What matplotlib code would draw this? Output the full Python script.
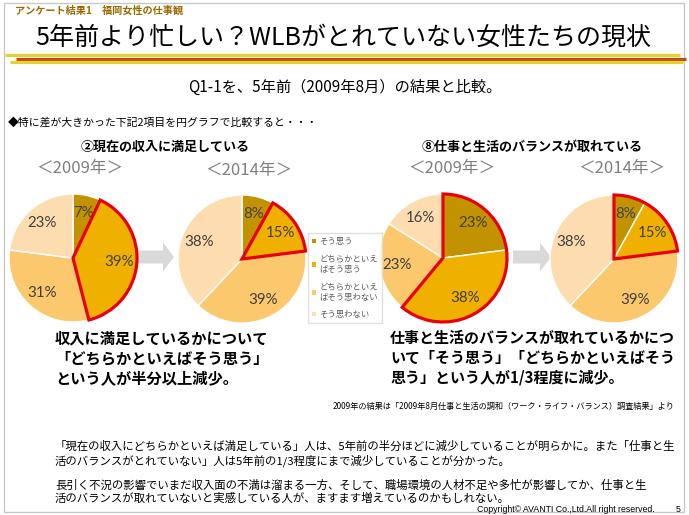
import matplotlib
matplotlib.use("Agg")
import matplotlib.pyplot as plt
import matplotlib.patches as mpatches

plt.rcParams['font.family'] = ['Noto Sans CJK JP', 'DejaVu Sans']

# ---------------------------------
# Data
# ---------------------------------
categories = ["そう思う", "どちらかといえばそう思う", "どちらかといえばそう思わない", "そう思わない"]
legend_labels = ["そう思う", "どちらかといえ\nばそう思う", "どちらかといえ\nばそう思わない", "そう思わない"]
income_2009 = [7, 39, 31, 23]
income_2014 = [8, 15, 39, 38]
wlb_2009 = [23, 38, 23, 16]
wlb_2014 = [8, 15, 39, 38]
year_labels = ["＜2009年＞", "＜2014年＞", "＜2009年＞", "＜2014年＞"]
highlights = [[1], [1], [0, 1], [0, 1]]

slice_colors = ["#C39200", "#F0B000", "#FBC86E", "#FDDDB0"]

W, H = 689, 515
fig = plt.figure(figsize=(W / 100, H / 100), dpi=100)
fig.patch.set_facecolor("white")

# background axes in pixel coordinates
bg = fig.add_axes([0, 0, 1, 1])
bg.set_xlim(0, W)
bg.set_ylim(H, 0)
bg.axis("off")

# slide frame
bg.add_patch(mpatches.Rectangle((4, 3), 680, 509, fill=False, ec="#C8C8C8", lw=1))

# header
bg.text(15, 11, "アンケート結果1　福岡女性の仕事観", fontsize=7.3, fontweight="bold",
        color="#9A6A00", va="center", ha="left")
bg.text(343, 38, "5年前より忙しい？WLBがとれていない女性たちの現状", fontsize=18,
        color="black", va="center", ha="center")
bg.plot([5, 680], [54.5, 54.5], color="#E2D52A", lw=2.3, solid_capstyle="butt")
bg.plot([16, 686], [58.7, 58.7], color="#C8461E", lw=2.3, solid_capstyle="butt")
bg.plot([10, 683], [62.3, 62.3], color="#E2D52A", lw=2.3, solid_capstyle="butt")

bg.text(345, 87, "Q1-1を、5年前（2009年8月）の結果と比較。", fontsize=11,
        va="center", ha="center")
bg.text(8, 122, "◆特に差が大きかった下記2項目を円グラフで比較すると・・・", fontsize=7.8,
        va="center", ha="left")

# section titles
bg.text(165, 147, "②現在の収入に満足している", fontsize=9.4, fontweight="bold",
        va="center", ha="center")
bg.text(532, 147, "⑧仕事と生活のバランスが取れている", fontsize=9.4, fontweight="bold",
        va="center", ha="center")

# pies
centers = [(73, 258), (242, 259), (443, 258), (614, 259)]
radius = 64
series = [income_2009, income_2014, wlb_2009, wlb_2014]
year_pos = [(80, 168), (249, 170), (452, 169), (622, 169)]

wedges_for_legend = None
for (cx, cy), values, hl, ylab, (yx, yy) in zip(centers, series, highlights, year_labels, year_pos):
    box = radius * 1.1
    ax = fig.add_axes([(cx - box) / W, 1 - (cy + box) / H, 2 * box / W, 2 * box / H])
    wedges, texts = ax.pie(values, colors=slice_colors, startangle=90, counterclock=False,
                           labels=[f"{v}%" for v in values], labeldistance=0.72,
                           wedgeprops=dict(edgecolor="white", linewidth=1),
                           textprops=dict(fontsize=10.8, color="#404040",
                                          family=["Lato", "DejaVu Sans"]))
    for t in texts:
        t.set_ha("center")
        t.set_va("center")
    ax.set_xlim(-1.1, 1.1)
    ax.set_ylim(-1.1, 1.1)
    ax.set_aspect("equal")
    ax.patch.set_alpha(0)
    # red outline around the highlighted slices
    start = sum(values[:hl[0]])
    end = sum(values[:hl[-1] + 1])
    total = sum(values)
    outline = mpatches.Wedge((0, 0), 1, 90 - 360 * end / total, 90 - 360 * start / total,
                             fill=False, ec="#E8000B", lw=2.3, joinstyle="miter", zorder=5)
    ax.add_patch(outline)
    bg.text(yx, yy, ylab, fontsize=12, color="#7F7F7F", va="center", ha="center")
    if wedges_for_legend is None:
        wedges_for_legend = wedges

# gray arrows between pies
for x0 in (136, 513):
    bg.add_patch(mpatches.FancyArrow(x0, 257, 27, 0, width=13, head_width=29,
                                     head_length=11, length_includes_head=False,
                                     color="#D9D9D9", lw=0))

# legend
leg = fig.legend(wedges_for_legend, legend_labels, loc="upper left",
                 bbox_to_anchor=(308 / W, 1 - 233 / H), borderaxespad=0,
                 fontsize=6.0, handlelength=0.45, handleheight=0.45, handletextpad=0.4,
                 labelspacing=1.0, frameon=True, fancybox=False, borderpad=0.5)
leg.get_frame().set_edgecolor("#D9D9D9")
leg.get_frame().set_linewidth(1)
for t in leg.get_texts():
    t.set_color("#595959")
for h in leg.legend_handles:
    h.set_edgecolor("none")

# explanation texts
bg.text(55, 358, "収入に満足しているかについて\n「どちらかといえばそう思う」\nという人が半分以上減少。",
        fontsize=11, fontweight="bold", va="center", ha="left", linespacing=1.3)
bg.text(390, 358, "仕事と生活のバランスが取れているかにつ\nいて「そう思う」「どちらかといえばそう\n思う」という人が1/3程度に減少。",
        fontsize=10.8, fontweight="bold", va="center", ha="left", linespacing=1.3)
bg.text(675, 406, "2009年の結果は「2009年8月仕事と生活の調和（ワーク・ライフ・バランス）調査結果」より",
        fontsize=5.9, va="center", ha="right")

bg.text(55, 454, "「現在の収入にどちらかといえば満足している」人は、5年前の半分ほどに減少していることが明らかに。また「仕事と生\n活のバランスがとれていない」人は5年前の1/3程度にまで減少していることが分かった。",
        fontsize=8.2, va="center", ha="left", linespacing=1.25)
bg.text(55, 492, "長引く不況の影響でいまだ収入面の不満は溜まる一方、そして、職場環境の人材不足や多忙が影響してか、仕事と生\n活のバランスが取れていないと実感している人が、ますます増えているのかもしれない。",
        fontsize=8.2, va="center", ha="left", linespacing=1.25)

bg.text(655, 509, "Copyright© AVANTI Co.,Ltd.All right reserved.", fontsize=6.3,
        family=["Liberation Sans", "DejaVu Sans"], va="center", ha="right")
bg.text(681, 509, "5", fontsize=6.3, family=["Liberation Sans", "DejaVu Sans"],
        va="center", ha="right")

fig.savefig("out.png", dpi=100)
